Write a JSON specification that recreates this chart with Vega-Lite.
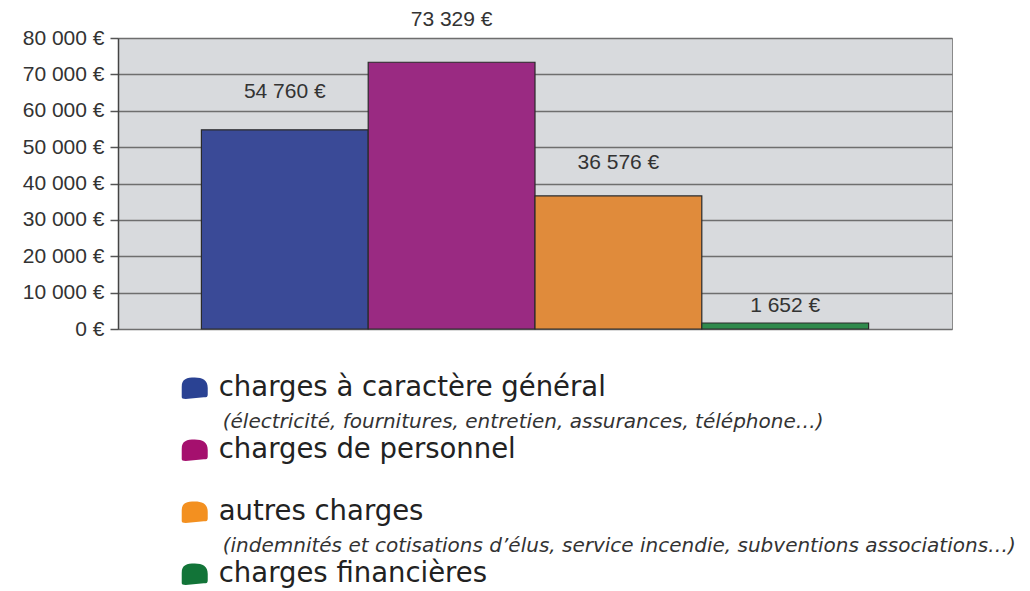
{
  "$schema": "https://vega.github.io/schema/vega-lite/v6.json",
  "background": "white",
  "padding": {"left": 21, "top": 8, "right": 5, "bottom": 0},
  "config": {"view": {"stroke": null}},
  "datasets": {
    "d": [
      {"category": "charges à caractère général", "sub": "(électricité, fournitures, entretien, assurances, téléphone…)", "value": 54760},
      {"category": "charges de personnel", "sub": "", "value": 73329},
      {"category": "autres charges", "sub": "(indemnités et cotisations d’élus, service incendie, subventions associations…)", "value": 36576},
      {"category": "charges financières", "sub": "", "value": 1652}
    ]
  },
  "spacing": 17,
  "resolve": {"scale": {"color": "independent", "x": "independent", "y": "independent"}},
  "vconcat": [
    {
      "width": 834,
      "height": 291,
      "data": {"name": "d"},
      "view": {"fill": "#d8dadd", "stroke": "#8a8a8a", "strokeWidth": 1},
      "transform": [{"calculate": "replace(format(datum.value, ',d'), ',', ' ') + ' €'", "as": "label"}],
      "encoding": {
        "x": {"field": "category", "type": "nominal", "sort": null, "scale": {"paddingInner": 0, "paddingOuter": 0.5}, "axis": null},
        "y": {
          "field": "value", "type": "quantitative",
          "scale": {"domain": [0, 80000], "nice": false},
          "axis": {
            "title": null,
            "values": [0, 10000, 20000, 30000, 40000, 50000, 60000, 70000, 80000],
            "labelExpr": "replace(format(datum.value, ',d'), ',', ' ') + ' €'",
            "labelFont": "Liberation Sans", "labelFontSize": 21, "labelColor": "#333333",
            "tickColor": "#555555", "tickSize": 8, "tickWidth": 1.5, "labelPadding": 6,
            "domainColor": "#444444", "domainWidth": 1.5,
            "grid": true, "gridColor": "#6e6e6e", "gridWidth": 1.5, "gridOpacity": 1
          }
        }
      },
      "layer": [
        {
          "mark": {"type": "bar", "stroke": "#2a2a2a", "strokeWidth": 1.2},
          "encoding": {
            "color": {"field": "category", "type": "nominal", "sort": null,
              "scale": {"domain": ["charges à caractère général", "charges de personnel", "autres charges", "charges financières"], "range": ["#3a4a97", "#9a2a82", "#e08b3b", "#2f8a4c"]},
              "legend": null}
          }
        },
        {
          "transform": [{"filter": "datum.value == 54760"}],
          "mark": {"type": "text", "baseline": "middle", "dy": -38, "font": "Liberation Sans", "fontSize": 21, "color": "#333333"},
          "encoding": {"text": {"field": "label"}}
        },
        {
          "transform": [{"filter": "datum.value == 73329"}],
          "mark": {"type": "text", "baseline": "middle", "dy": -42, "font": "Liberation Sans", "fontSize": 21, "color": "#333333"},
          "encoding": {"text": {"field": "label"}}
        },
        {
          "transform": [{"filter": "datum.value == 36576"}],
          "mark": {"type": "text", "baseline": "middle", "dy": -33, "font": "Liberation Sans", "fontSize": 21, "color": "#333333"},
          "encoding": {"text": {"field": "label"}}
        },
        {
          "transform": [{"filter": "datum.value == 1652"}],
          "mark": {"type": "text", "baseline": "middle", "dy": -17, "font": "Liberation Sans", "fontSize": 21, "color": "#333333"},
          "encoding": {"text": {"field": "label"}}
        }
      ]
    },
    {
      "width": 834,
      "height": 248,
      "data": {"name": "d"},
      "encoding": {
        "y": {"field": "category", "type": "nominal", "sort": null, "scale": {"type": "point", "padding": 0.5}, "axis": null},
        "x": {"datum": 0.092, "type": "quantitative", "scale": {"domain": [0, 1]}, "axis": null}
      },
      "layer": [
        {
          "mark": {"type": "point", "filled": true, "opacity": 1, "size": 676,
            "shape": "M -1 0.7 L -1 -0.1 C -1 -0.7 -0.6 -0.8 0 -0.8 C 0.6 -0.8 1 -0.6 1 0 L 1 0.5 C 1 0.7 0.9 0.72 0.7 0.72 L -0.7 0.85 C -0.9 0.85 -1 0.82 -1 0.7 Z"},
          "encoding": {
            "color": {"field": "category", "type": "nominal", "sort": null,
              "scale": {"domain": ["charges à caractère général", "charges de personnel", "autres charges", "charges financières"], "range": ["#2a4293", "#a5106e", "#f39020", "#127438"]},
              "legend": null}
          }
        },
        {
          "mark": {"type": "text", "align": "left", "baseline": "middle", "dx": 24, "font": "DejaVu Sans", "fontSize": 27.5, "color": "#222222"},
          "encoding": {"text": {"field": "category"}}
        },
        {
          "transform": [{"filter": "datum.sub != ''"}],
          "mark": {"type": "text", "align": "left", "baseline": "middle", "dx": 28, "dy": 34, "font": "DejaVu Sans", "fontStyle": "italic", "fontSize": 20, "color": "#333333"},
          "encoding": {"text": {"field": "sub"}}
        }
      ]
    }
  ]
}
